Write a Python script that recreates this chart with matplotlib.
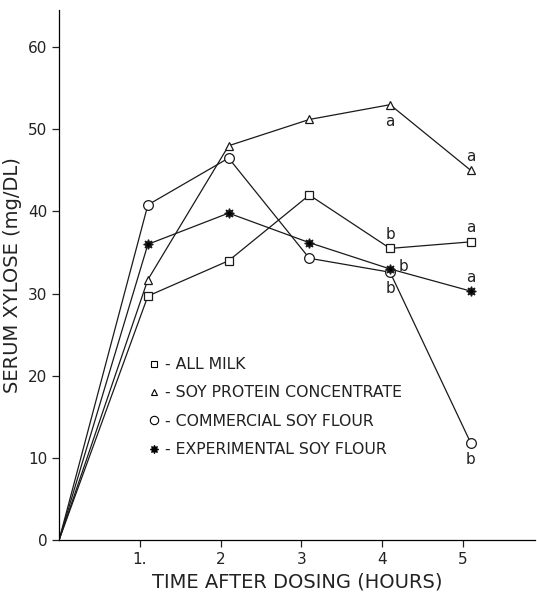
import matplotlib
matplotlib.use("Agg")
import matplotlib.pyplot as plt
from matplotlib.lines import Line2D

hours = [0, 1.1, 2.1, 3.1, 4.1, 5.1]
all_milk = [0, 29.7, 34.0, 42.0, 35.5, 36.3]
soy_protein = [0, 31.7, 48.0, 51.2, 53.0, 45.0]
commercial = [0, 40.8, 46.5, 34.3, 32.6, 11.8]
experimental = [0, 36.0, 39.8, 36.2, 33.0, 30.3]

series_names = ["ALL MILK", "SOY PROTEIN CONCENTRATE",
                "COMMERCIAL SOY FLOUR", "EXPERIMENTAL SOY FLOUR"]

# significance letters: (series, point index, letter, dx, dy in points)
letters = [
    (soy_protein, 4, "a", 0, -12),
    (soy_protein, 5, "a", 0, 10),
    (all_milk, 4, "b", 0, 10),
    (all_milk, 5, "a", 0, 10),
    (experimental, 4, "b", 10, 2),
    (commercial, 4, "b", 0, -12),
    (experimental, 5, "a", 0, 10),
    (commercial, 5, "b", 0, -12),
]

fig = plt.figure(figsize=(5.37, 6.02), dpi=100)
ax = fig.add_axes([0.11, 0.103, 0.887, 0.88])

styles = [
    dict(marker="s", mfc="white", ms=6),
    dict(marker="^", mfc="white", ms=6),
    dict(marker="o", mfc="white", ms=7),
    dict(marker=(8, 1, 0), mfc="black", ms=7),
]
data = [all_milk, soy_protein, commercial, experimental]

for vals, st in zip(data, styles):
    ax.plot(hours, vals, color="#1a1a1a", lw=0.9, mec="#1a1a1a", mew=0.9,
            markevery=list(range(1, len(hours))), **st)

for vals, i, txt, dx, dy in letters:
    ax.annotate(txt, (hours[i], vals[i]), xytext=(dx, dy),
                textcoords="offset points", ha="center", va="center",
                fontsize=11, color="#222222")

handles = [Line2D([], [], ls="none", color="black", mec="black", mew=0.8,
                  **dict(st, ms=st["ms"] - 1)) for st in styles]
ax.legend(handles, ["- " + n for n in series_names], loc="upper left",
          bbox_to_anchor=(0.17, 0.36), frameon=False, fontsize=11.3,
          handlelength=0.8, handletextpad=0.3, labelspacing=0.85,
          borderpad=0, labelcolor="#222222")

ax.set_xlim(0, 5.9)
ax.set_ylim(0, 64.5)
ax.set_xticks([1, 2, 3, 4, 5])
ax.set_xticklabels(["1.", "2", "3", "4", "5"])
ax.set_yticks([0, 10, 20, 30, 40, 50, 60])
ax.spines["top"].set_visible(False)
ax.spines["right"].set_visible(False)
ax.spines["left"].set_linewidth(0.9)
ax.spines["bottom"].set_linewidth(0.9)
ax.tick_params(axis="both", labelsize=11, length=5, width=0.9,
               colors="#222222")
ax.set_xlabel("TIME AFTER DOSING (HOURS)", fontsize=14, color="#222222")
ax.set_ylabel("SERUM XYLOSE (mg/DL)", fontsize=14, color="#222222",
              labelpad=4)

fig.savefig("out.png", dpi=100)
